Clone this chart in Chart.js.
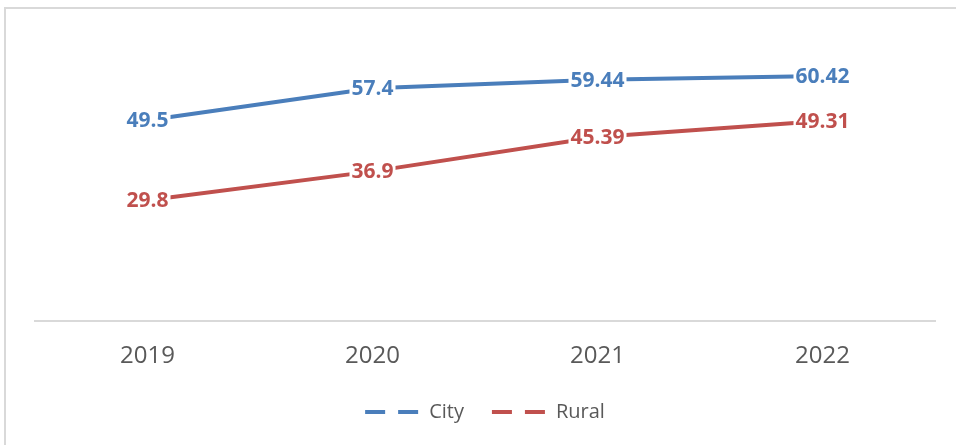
<!DOCTYPE html>
<html>
<head>
<meta charset="utf-8">
<script src="https://cdn.jsdelivr.net/npm/chart.js@4"></script>
<style>
    html, body { margin: 0; padding: 0; background: #fff; overflow: hidden; }
    #wrap { position: absolute; left: 0; top: 0; width: 956px; height: 445px; }
    #frame { position: absolute; left: 4px; top: 7px; width: 970px; height: 460px;
             border: 2px solid #d9d9d9; pointer-events: none; }
</style>
</head>
<body>
<div id="wrap"><canvas id="line-chart"></canvas></div>
<div id="frame"></div>
<script>
// Dados do gráfico
const anos = ["2019", "2020", "2021", "2022"];
const valoresCity = [49.5, 57.4, 59.44, 60.42];
const valoresRural = [29.8, 36.9, 45.39, 49.31];

const corCity = "#4a7ebb";
const corRural = "#c0504d";
const corTexto = "#595959";

// Rótulos de dados no centro do ponto, com fundo branco por cima da linha
const rotulosPlugin = {
    id: "rotulos",
    afterDatasetsDraw(chart) {
        const ctx = chart.ctx;
        ctx.save();
        ctx.font = "bold 21px 'Open Sans'";
        ctx.textAlign = "center";
        ctx.textBaseline = "middle";
        chart.data.datasets.forEach((ds, i) => {
            const meta = chart.getDatasetMeta(i);
            meta.data.forEach((pt, j) => {
                const texto = String(ds.data[j]);
                const w = ctx.measureText(texto).width;
                ctx.fillStyle = "#fff";
                ctx.fillRect(pt.x - w / 2 - 2, pt.y - 10, w + 4, 21);
                ctx.fillStyle = ds.borderColor;
                ctx.fillText(texto, pt.x, pt.y + 1);
            });
        });
        ctx.restore();
    }
};

function criarGrafico() {
    const ctx = document.getElementById("line-chart").getContext("2d");

    new Chart(ctx, {
        type: "line",
        data: {
            labels: anos,
            datasets: [{
                label: "City",
                data: valoresCity,
                borderColor: corCity,
                backgroundColor: corCity,
                borderWidth: 4,
                pointRadius: 0,
                tension: 0,
            }, {
                label: "Rural",
                data: valoresRural,
                borderColor: corRural,
                backgroundColor: corRural,
                borderWidth: 4,
                pointRadius: 0,
                tension: 0,
            }],
        },
        options: {
            responsive: false,
            animation: false,
            layout: {
                padding: { left: 35, right: 21, top: 37, bottom: 13 }
            },
            scales: {
                x: {
                    offset: true,
                    grid: { display: false, drawTicks: false },
                    border: { color: "#d9d9d9", width: 2 },
                    ticks: {
                        color: corTexto,
                        font: { family: "'Open Sans'", size: 24 },
                        padding: 21,
                    },
                    // encurta a área do eixo para aproximar a legenda
                    afterFit(scale) {
                        scale.height -= 18;
                    },
                },
                y: {
                    display: false,
                    min: 0,
                    max: 70,
                },
            },
            plugins: {
                tooltip: { enabled: false },
                legend: {
                    position: "bottom",
                    labels: {
                        usePointStyle: true,
                        pointStyleWidth: 54,
                        boxHeight: 4,
                        padding: 28,
                        color: corTexto,
                        font: { family: "'Open Sans'", size: 20 },
                        generateLabels(chart) {
                            const itens = Chart.defaults.plugins.legend.labels.generateLabels(chart);
                            return itens.map(item => {
                                item.pointStyle = "line";
                                item.lineDash = [20, 13];
                                item.lineWidth = 4;
                                item.fontColor = corTexto;
                                return item;
                            });
                        },
                    },
                },
            },
        },
        plugins: [rotulosPlugin],
    });
}

const canvas = document.getElementById("line-chart");
canvas.width = 956;
canvas.height = 445;
criarGrafico();
</script>
</body>
</html>
